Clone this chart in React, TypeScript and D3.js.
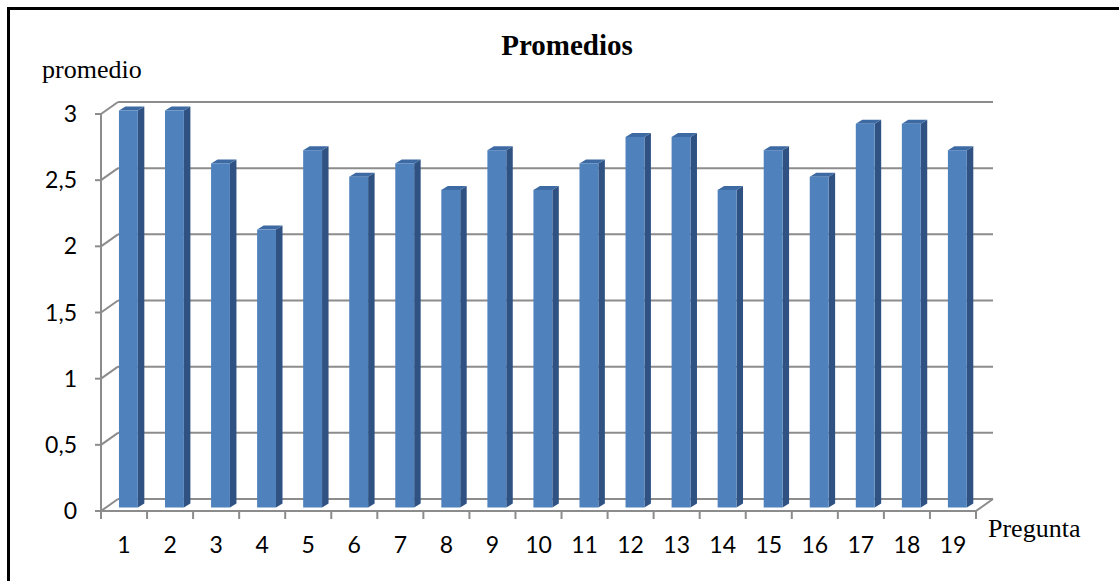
import React from "react";
import * as d3 from "d3";

const categories = ["1","2","3","4","5","6","7","8","9","10","11","12","13","14","15","16","17","18","19"];
const values = [3, 3, 2.6, 2.1, 2.7, 2.5, 2.6, 2.4, 2.7, 2.4, 2.6, 2.8, 2.8, 2.4, 2.7, 2.5, 2.9, 2.9, 2.7];
const yTicks = [0, 0.5, 1, 1.5, 2, 2.5, 3];
const yTickLabels = ["0", "0,5", "1", "1,5", "2", "2,5", "3"];

const W = 1119, H = 581;
const DX = 17, DY = -12; // wall depth offset
const BDX = 5, BDY = -3.5; // bar front plane offset
const SDX = 6.5, SDY = -4; // bar depth

export default function App() {
  const x = d3.scaleBand<string>().domain(categories).range([101, 976]).padding(0);
  const y = d3.scaleLinear().domain([0, 3]).range([511, 114]);
  const bw = x.bandwidth();
  const grid = "#8c8c8c";
  const sans = "Lato, 'Open Sans', sans-serif";
  const serif = "'Liberation Serif', 'DejaVu Serif', serif";
  const x0 = x.range()[0], x1 = x.range()[1];
  const ticksX = [...categories.map((c) => x(c) as number), x1];

  return (
    <svg width={W} height={H} style={{ position: "absolute", left: 0, top: 0, background: "#fff" }}>
      <rect x={8.5} y={8.5} width={1140} height={620} fill="#fff" stroke="#000" strokeWidth={3} />
      {yTicks.map((v) => (
        <g key={"g" + v}>
          <line x1={x0 + DX} x2={x1 + DX} y1={y(v) + DY} y2={y(v) + DY} stroke={grid} strokeWidth={2} />
          <line x1={x0} x2={x0 + DX} y1={y(v)} y2={y(v) + DY} stroke={grid} strokeWidth={2} />
          <line x1={x0 - 6} x2={x0} y1={y(v)} y2={y(v)} stroke={grid} strokeWidth={2} />
        </g>
      ))}
      <line x1={x0} x2={x0} y1={y(3)} y2={y(0)} stroke={grid} strokeWidth={2} />
      <line x1={x0} x2={x1} y1={y(0)} y2={y(0)} stroke={grid} strokeWidth={2} />
      <line x1={x1} x2={x1 + DX} y1={y(0)} y2={y(0) + DY} stroke={grid} strokeWidth={2} />
      {ticksX.map((tx, i) => (
        <line key={"t" + i} x1={tx} x2={tx} y1={y(0)} y2={y(0) + 8} stroke={grid} strokeWidth={2} />
      ))}
      {categories.map((c, i) => {
        const bx = (x(c) as number) + bw * 0.39 + BDX - 5;
        const w = bw * 0.41;
        const top = y(values[i]) + BDY;
        const bot = y(0) + BDY;
        return (
          <g key={"b" + c}>
            <path
              d={`M${bx + w},${top} L${bx + w + SDX},${top + SDY} L${bx + w + SDX},${bot + SDY} L${bx + w},${bot} Z`}
              fill="#2f5283"
            />
            <path
              d={`M${bx},${top} L${bx + SDX},${top + SDY} L${bx + w + SDX},${top + SDY} L${bx + w},${top} Z`}
              fill="#3d6aa3"
            />
            <rect x={bx} y={top} width={w} height={bot - top} fill="#4f81bd" />
          </g>
        );
      })}
      {yTicks.map((v, i) => (
        <text key={"yl" + v} x={77} y={y(v) + 8} textAnchor="end" fontFamily={sans} fontSize={23} fill="#000">
          {yTickLabels[i]}
        </text>
      ))}
      {categories.map((c) => (
        <text key={"xl" + c} x={(x(c) as number) + bw / 2} y={553} textAnchor="middle" fontFamily={sans} fontSize={23} fill="#000">
          {c}
        </text>
      ))}
      <text x={567} y={55} textAnchor="middle" fontFamily={serif} fontWeight="bold" fontSize={29} fill="#000">
        Promedios
      </text>
      <text x={42} y={78} fontFamily={serif} fontSize={26} fill="#000">
        promedio
      </text>
      <text x={988} y={537} fontFamily={serif} fontSize={26} fill="#000">
        Pregunta
      </text>
    </svg>
  );
}
